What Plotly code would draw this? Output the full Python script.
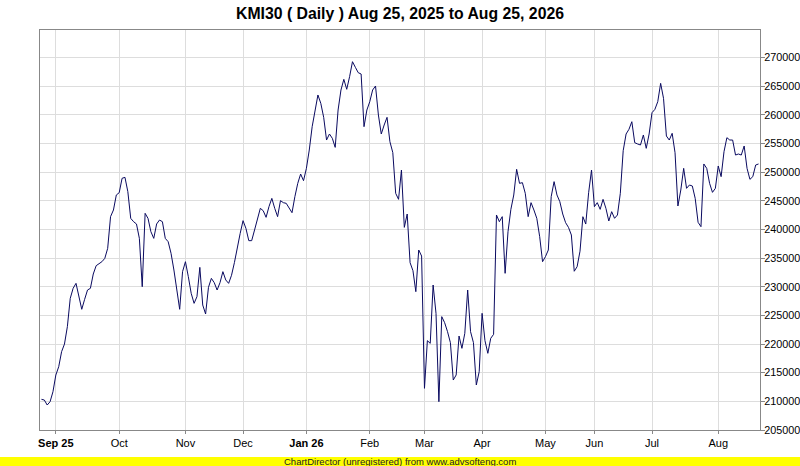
import pandas as pd
import plotly.graph_objects as go

# ---- data ----
holidays = ["2025-12-25", "2026-02-05", "2026-03-20", "2026-03-23", "2026-05-01",
            "2026-05-27", "2026-05-28", "2026-05-29", "2026-06-25", "2026-06-26",
            "2026-08-14"]
dates = [d for d in pd.bdate_range("2025-08-25", "2026-08-24")
         if d.strftime("%Y-%m-%d") not in holidays]
date_labels = [d.strftime("%Y-%m-%d") for d in dates]

close_values = [
    210350, 210230, 209360, 209940, 211680, 214590, 216050, 218670, 220000, 223030,
    227970, 229720, 230590, 228560, 226060, 227800, 229430, 229720, 232220, 233670,
    233970, 234370, 234950, 236700, 242230, 243390, 246010, 246410, 248920, 249090,
    246590, 241930, 241350, 240950, 238440, 230010, 242810, 241930, 239610, 238440,
    240950, 241640, 241350, 238440, 237860, 235830, 232920, 229430, 226060, 232630,
    234370, 231760, 228850, 227100, 228270, 233380, 226810, 225240, 229900, 231460,
    230710, 229430, 230710, 232630, 231180, 230590, 232000, 234200, 237000, 239300,
    241530, 240190, 238040, 238040, 239900, 241760, 243680, 243270, 242110, 243970,
    245420, 243680, 242230, 245020, 244670, 244550, 243680, 242920, 245720, 248040,
    249670, 248510, 250660, 253860, 257930, 260550, 263460, 262000, 259560, 255600,
    256650, 255900, 254320, 260840, 264330, 266190, 264450, 266660, 269270, 268290,
    267350, 267120, 257930, 260840, 262290, 264330, 265030, 259970, 256650, 258220,
    259560, 255310, 253400, 246300, 245250, 250370, 240360, 242690, 234200, 232800,
    229140, 236410, 235360, 212270, 220590, 220120, 230300, 225360, 209940, 224780,
    223730, 222160, 220240, 213720, 214600, 221400, 219250, 221870, 229430, 222160,
    220240, 212850, 215180, 225360, 220590, 218380, 221000, 221690, 242520, 241350,
    242230, 232340, 239610, 243510, 246010, 250490, 248040, 248160, 246300, 242230,
    244670, 243390, 241930, 238740, 234370, 235250, 236410, 245720, 248340, 246010,
    244840, 242690, 241180, 240360, 239030, 232700, 233500, 236200, 242220, 240940,
    246410, 250370, 243970, 244670, 243500, 245250, 243680, 241470, 243100, 241940,
    242520, 246300, 253740, 256650, 257470, 258800, 255140, 254910, 254730, 256480,
    254150, 256650, 260370, 260950, 262290, 265490, 262880, 256300, 255600, 256770,
    253390, 244090, 246880, 250660, 247170, 247750, 247580, 245420, 241240, 240480,
    251420, 250660, 248040, 246470, 247170, 251070, 249210, 253570, 256010, 255600,
    255600, 252980, 253160, 252980, 254560, 250660, 248740, 249210, 251240, 251420,
]

month_ticks = ["<b>Sep 25</b>", "Oct", "Nov", "Dec", "<b>Jan 26</b>", "Feb", "Mar",
               "Apr", "May", "Jun", "Jul", "Aug"]
y_ticks = list(range(205000, 270001, 5000))
title_text = "KMI30 ( Daily ) Aug 25, 2025 to Aug 25, 2026"
footer_text = "ChartDirector (unregistered) from www.advsofteng.com"

# first trading day of each month (Sep 2025 .. Aug 2026)
tick_vals = []
seen = set()
for d in dates:
    key = (d.year, d.month)
    if key not in seen:
        seen.add(key)
        if not (d.year == 2025 and d.month == 8):
            tick_vals.append(d.strftime("%Y-%m-%d"))

FONT = "Liberation Sans, Arial, sans-serif"
n = len(close_values)

fig = go.Figure(go.Scatter(
    x=date_labels[:n], y=close_values, mode="lines",
    line=dict(color="#0a0a60", width=1), hoverinfo="skip"))

fig.update_layout(
    width=800, height=466,
    margin=dict(l=40, r=40, t=30, b=36),
    paper_bgcolor="white", plot_bgcolor="white",
    showlegend=False,
    font=dict(family=FONT, size=11, color="#000000"),
    title=dict(text="<b>" + title_text + "</b>", x=0.5, xanchor="center",
               y=1 - 13 / 466, yanchor="middle", yref="container",
               font=dict(family=FONT, size=15.8, color="#000000")),
    xaxis=dict(type="category", range=[-0.5, n - 0.5], automargin=False,
               tickmode="array", tickvals=tick_vals, ticktext=month_ticks,
               showgrid=True, gridcolor="#dddddd", gridwidth=1,
               ticks="outside", ticklen=3, tickcolor="#888888",
               showline=True, linecolor="#888888", linewidth=1, mirror=True,
               tickfont=dict(family=FONT, size=11, color="#000000"),
               zeroline=False),
    yaxis=dict(side="right", range=[205000, 274800], automargin=False,
               tickmode="array", tickvals=y_ticks,
               ticktext=[str(v) for v in y_ticks],
               showgrid=True, gridcolor="#dddddd", gridwidth=1,
               ticks="outside", ticklen=4, tickcolor="#888888",
               ticklabelstandoff=-3,
               showline=True, linecolor="#888888", linewidth=1, mirror=True,
               tickfont=dict(family=FONT, size=10.8, color="#000000"),
               zeroline=False),
    shapes=[dict(type="rect", xref="paper", yref="paper",
                 x0=-40 / 720, x1=1 + 40 / 720,
                 y0=-(466 - 430) / 400 - 0.01, y1=-(457 - 430) / 400,
                 fillcolor="#ffff00", line=dict(width=0), layer="below")],
    annotations=[dict(text=footer_text, xref="paper", yref="paper",
                      x=0.5, y=-(461.5 - 430) / 400, xanchor="center",
                      yanchor="middle", showarrow=False,
                      font=dict(family=FONT, size=9.5, color="#222222"))],
)

fig.write_html("out.html", config={"displayModeBar": False},
               post_script="document.body.style.margin='0';document.body.style.overflow='hidden';")
